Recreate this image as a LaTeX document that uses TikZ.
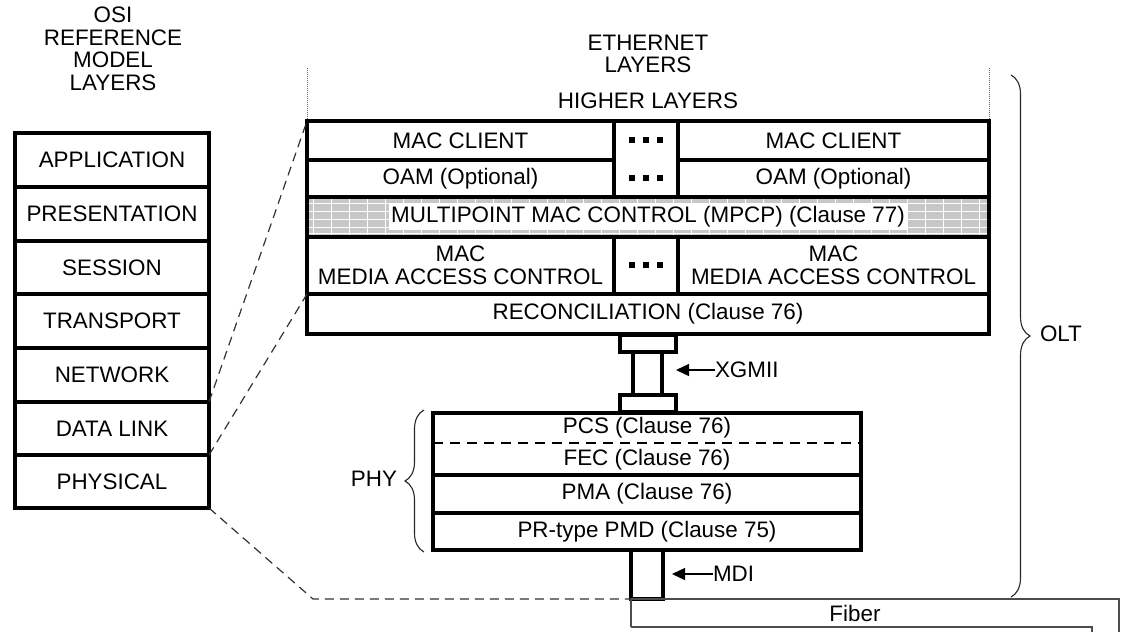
\documentclass[tikz,border=0pt]{standalone}
\usepackage{fontspec}
\setmainfont{Liberation Sans}
\usetikzlibrary{arrows.meta,decorations.pathreplacing}

% box given by its corners (x1,y1)-(x2,y2), y grows downward
\newcommand\layerbox[7][]{%
  \node[cell,#1,minimum width={(#5-#3)*1pt},minimum height={(#6-#4)*1pt}]
    (#2) at ({(#3+#5)/2},{(#4+#6)/2}) {#7};}

\begin{document}
\begin{tikzpicture}[x=1pt,y=-1pt,
  every node/.style={font=\fontsize{22.4}{22.5}\selectfont,inner sep=0pt,outer sep=0pt},
  cell/.style={draw,line width=3.5pt,align=center},
  frame/.style={draw,line width=4pt},
  link/.style={draw,dash pattern=on 9pt off 6pt,line width=1.2pt,black!80},
  pointer/.style={line width=1.3pt,-{Triangle[length=13pt,width=12pt]}},
  dotmark/.style={fill,minimum width=6pt,minimum height=5.5pt},
  bracestyle/.style={decorate,line width=1.1pt,black!85},
  fiberline/.style={draw,line width=1.3pt,black!70},
  guide/.style={draw,densely dotted,line width=1pt,black!60}]
\useasboundingbox (0,0) rectangle (1126,632);

% ---------------- OSI reference model ----------------
\node[align=center] (osititle) at (113,49) {OSI\\REFERENCE\\MODEL\\LAYERS};
\layerbox{app}{15}{133}{209}{187}{APPLICATION}
\layerbox{pres}{15}{187}{209}{241}{PRESENTATION}
\layerbox{sess}{15}{241}{209}{294}{SESSION}
\layerbox{trans}{15}{294}{209}{348}{TRANSPORT}
\layerbox{net}{15}{348}{209}{402}{NETWORK}
\layerbox{dl}{15}{402}{209}{455}{DATA LINK}
\layerbox{phys}{15}{455}{209}{508}{PHYSICAL}
\draw[frame] (app.north west) rectangle (phys.south east);

% ---------------- Ethernet layers ----------------
\node[align=center] (ethtitle) at (648,54) {ETHERNET\\LAYERS};
\node (higher) at (648,101) {HIGHER LAYERS};
\path[guide] (307,68) -- (307,121);
\path[guide] (989,68) -- (989,121);

% multipoint MAC control band: stippled grey with a light grid
\begin{scope}
  \clip (307,197) rectangle (989,237);
  \fill[black!22] (307,197) rectangle (989,237);
  \foreach \gx in {313,331,...,989} \draw[white,line width=0.9pt] (\gx,197) -- (\gx,237);
  \foreach \gy in {203,211,219,227,233} \draw[white,line width=0.9pt] (307,\gy) -- (989,\gy);
\end{scope}

\layerbox{mcl}{307}{121}{614}{160}{MAC CLIENT}
\layerbox{mcr}{678}{121}{989}{160}{MAC CLIENT}
\layerbox{oaml}{307}{160}{614}{197}{OAM (Optional)}
\layerbox{oamr}{678}{160}{989}{197}{OAM (Optional)}
\layerbox{dotsa}{614}{121}{678}{197}{}
\layerbox{mpcp}{307}{197}{989}{237}{}
\node[fill=white,inner xsep=2pt,inner ysep=3pt] (mpcptext) at (648,217)
  {MULTIPOINT MAC CONTROL (MPCP) (Clause 77)};
\layerbox{macl}{307}{237}{614}{294}{MAC\\MEDIA ACCESS CONTROL}
\layerbox{macr}{678}{237}{989}{294}{MAC\\MEDIA ACCESS CONTROL}
\layerbox{dotsb}{614}{237}{678}{294}{}
\layerbox{rec}{307}{294}{989}{334}{RECONCILIATION (Clause 76)}
\draw[frame] (mcl.north west) rectangle (rec.south east);

\foreach \dy/\tag in {140/a,178/b,265/c}
  \foreach \dx/\k in {632/1,646/2,660/3}
    \node[dotmark] (dot\tag\k) at (\dx,\dy) {};

% ---------------- XGMII ----------------
\layerbox{xgtop}{620}{335}{676}{352}{}
\layerbox{xgstem}{633}{352}{662}{395}{}
\layerbox{xgbot}{620}{395}{676}{412}{}
\node[anchor=west] (xgmii) at (715,370) {XGMII};
\coordinate (xgtip) at (676,370);
\draw[pointer] (xgmii.west) -- (xgtip);

% ---------------- PHY ----------------
\layerbox{pcsfec}{433}{413}{861}{475}{}
\node (pcs) at (647,428) {PCS (Clause 76)};
\node (fec) at (647,460) {FEC (Clause 76)};
\draw[dash pattern=on 10pt off 7pt,line width=1.2pt] (pcsfec.west |- 0,443) -- (pcsfec.east |- 0,443);
\layerbox{pma}{433}{475}{861}{513}{PMA (Clause 76)}
\layerbox{pmd}{433}{513}{861}{550}{PR-type PMD (Clause 75)}
\draw[frame] (pcsfec.north west) rectangle (pmd.south east);
\draw[bracestyle,decoration={brace,amplitude=19pt}] (424,552) -- (424,410);
\node (phy) at (374,479) {PHY};

% ---------------- MDI and fiber ----------------
\layerbox{mdi}{631}{550}{663}{599}{}
\node[anchor=west] (mditext) at (713,574) {MDI};
\coordinate (mditip) at (672,574);
\draw[pointer] (mditext.west) -- (mditip);

\coordinate (fa) at (631,599);
\coordinate (fb) at (1119,599);
\coordinate (fc) at (1119,632);
\coordinate (fd) at (631,627);
\coordinate (fe) at (1092,627);
\coordinate (ff) at (1092,632);
\draw[fiberline] (fd) -- (fa) -- (fb) -- (fc);
\draw[fiberline] (fd) -- (fe) -- (ff);
\node (fiber) at (855,613) {Fiber};

% ---------------- OLT brace ----------------
\draw[bracestyle,decoration={brace,amplitude=19pt}] (1011,75) -- (1011,597);
\node[anchor=west] (olt) at (1040,334) {OLT};

% ---------------- mapping between the two stacks ----------------
\coordinate (bend) at (313,599);
\draw[link] (dl.north east) -- (mcl.north west);
\draw[link] (phys.north east) -- (rec.north west);
\draw[link] (phys.south east) -- (bend) -- (mdi.south west);
\end{tikzpicture}
\end{document}
